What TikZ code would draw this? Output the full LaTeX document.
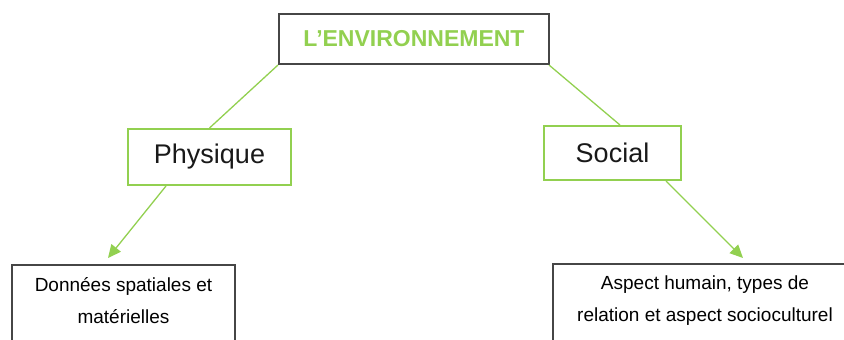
\documentclass[tikz,border=0pt]{standalone}
\usepackage{fontspec}
\setmainfont{Liberation Sans}
\usetikzlibrary{arrows.meta}
\definecolor{leafgreen}{RGB}{146,208,80}
\definecolor{boxgray}{RGB}{70,70,70}

\begin{document}
\begin{tikzpicture}[x=1pt, y=-1pt,
  greybox/.style={draw=boxgray, line width=2pt, inner sep=0pt},
  greenbox/.style={draw=leafgreen, line width=2pt, inner sep=0pt, font=\fontsize{27}{32}\selectfont, text=black!90},
  link/.style={draw=leafgreen, line width=1.3pt},
  tip/.style={-{Triangle[length=13pt, width=12pt, fill=leafgreen]}}]
\useasboundingbox (0,0) rectangle (844,340);
\node[greybox, minimum width=270pt, minimum height=50pt, text=leafgreen, font=\fontsize{23}{28}\selectfont\bfseries] (env) at (414,39) {L’ENVIRONNEMENT};
\node[greenbox, minimum width=163pt, minimum height=56pt] (phys) at (209.5,157) {Physique};
\node[greenbox, minimum width=137pt, minimum height=54pt] (soc) at (612.5,153) {Social};
\node[greybox, anchor=north] (donnees) at (123.5,264) {\parbox[c][100pt][t]{223pt}{\centering\fontsize{19}{32}\selectfont\rule{0pt}{26pt}Données spatiales et\\ matérielles}};
\node[greybox, anchor=north] (aspect) at (705,263) {\parbox[c][100pt][t]{304pt}{\centering\fontsize{19}{32}\selectfont\rule{0pt}{25pt}Aspect humain, types de\\ relation et aspect socioculturel}};
\draw[link] (env.south west) -- (phys.north);
\draw[link] ([xshift=-1pt]env.south east) -- ([xshift=7.5pt]soc.north);
\draw[link, tip] ([xshift=39pt]phys.south west) -- ([xshift=-15.5pt, yshift=6pt]donnees.north);
\draw[link, tip] ([xshift=-16pt]soc.south east) -- ([xshift=38pt, yshift=5pt]aspect.north);
\end{tikzpicture}
\end{document}
